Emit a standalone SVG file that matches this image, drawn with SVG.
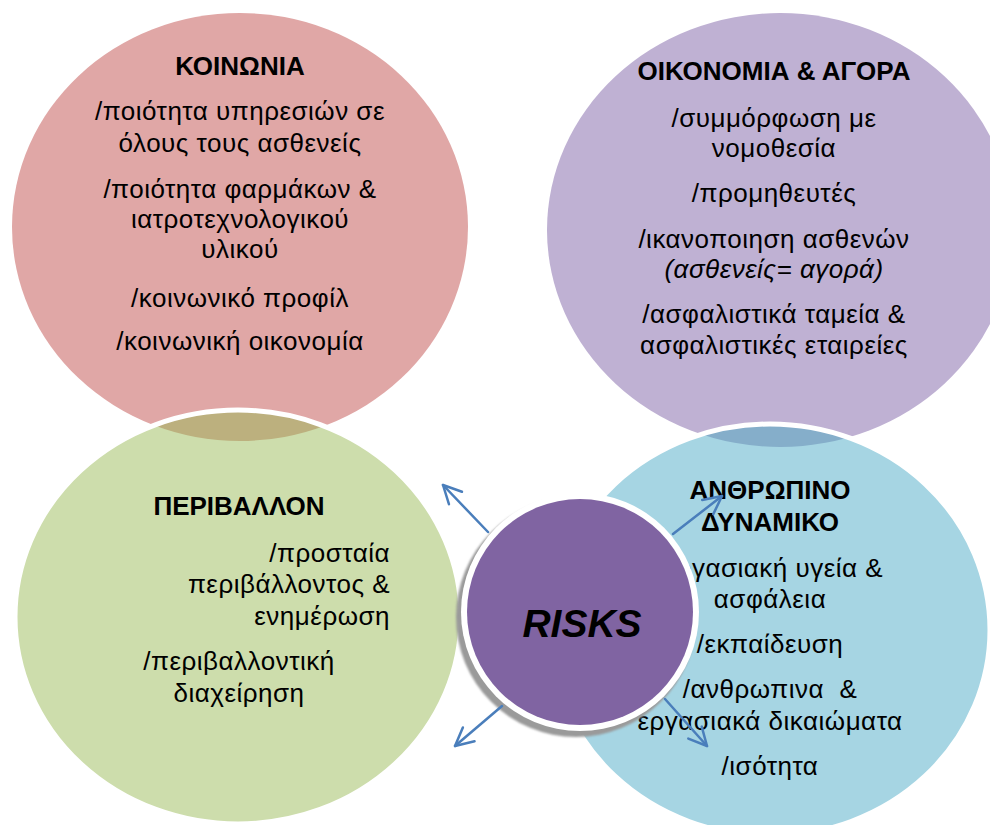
<svg xmlns="http://www.w3.org/2000/svg" width="990" height="825" viewBox="0 0 990 825">
<style>
.t{font-family:"Liberation Sans","Noto Sans",sans-serif;font-size:26px;fill:#000;text-anchor:middle;letter-spacing:0.5px}
.h{font-weight:bold;letter-spacing:0}
.r{text-anchor:end}
.i{font-style:italic}
.ring{fill:none;stroke:#fff;stroke-width:5}
.arr{fill:none;stroke:#4A7EBB;stroke-width:2.5;stroke-linecap:round;stroke-linejoin:round}
</style>
<defs>
<clipPath id="cRed"><ellipse cx="240" cy="227" rx="228" ry="214"/></clipPath>
<clipPath id="cPur"><ellipse cx="780" cy="230" rx="233" ry="217"/></clipPath>
<marker id="ah" markerUnits="userSpaceOnUse" viewBox="-22 -12 24 24" markerWidth="24" markerHeight="24" refX="0" refY="0" orient="auto" overflow="visible">
<path d="M-18,-9 L0,0 L-18,9" class="arr"/>
</marker>
<filter id="blur" x="-10%" y="-10%" width="120%" height="120%"><feGaussianBlur stdDeviation="1"/></filter>
</defs>
<rect width="990" height="825" fill="#fff"/>

<g id="node-koinonia">
<ellipse cx="240" cy="227" rx="228" ry="214" fill="#E0A7A6"/>
<text class="t h" x="240" y="75">ΚΟΙΝΩΝΙΑ</text>
<text class="t" x="240" y="120">/ποιότητα υπηρεσιών σε</text>
<text class="t" x="240" y="152">όλους τους ασθενείς</text>
<text class="t" x="240" y="198">/ποιότητα φαρμάκων &amp;</text>
<text class="t" x="240" y="228">ιατροτεχνολογικού</text>
<text class="t" x="240" y="258">υλικού</text>
<text class="t" x="240" y="307">/κοινωνικό προφίλ</text>
<text class="t" x="240" y="350">/κοινωνική οικονομία</text>
</g>

<g id="node-oikonomia">
<ellipse cx="780" cy="230" rx="233" ry="217" fill="#BFB1D3"/>
<text class="t h" x="774" y="80">ΟΙΚΟΝΟΜΙΑ &amp; ΑΓΟΡΑ</text>
<text class="t" x="774" y="127">/συμμόρφωση με</text>
<text class="t" x="774" y="157">νομοθεσία</text>
<text class="t" x="774" y="202">/προμηθευτές</text>
<text class="t" x="774" y="248">/ικανοποιηση ασθενών</text>
<text class="t i" x="774" y="278">(ασθενείς= αγορά)</text>
<text class="t" x="774" y="323">/ασφαλιστικά ταμεία &amp;</text>
<text class="t" x="774" y="354">ασφαλιστικές εταιρείες</text>
</g>

<g id="node-perivallon">
<ellipse cx="238" cy="617" rx="223" ry="207" fill="#CDDDAC"/>
<ellipse cx="238" cy="617" rx="223" ry="207" fill="#BCB07E" clip-path="url(#cRed)"/>
<ellipse cx="238" cy="617" rx="223" ry="207" class="ring"/>
<text class="t h" x="239" y="515">ΠΕΡΙΒΑΛΛΟΝ</text>
<text class="t r" x="390" y="562">/προσταία</text>
<text class="t r" x="390" y="593">περιβάλλοντος &amp;</text>
<text class="t r" x="390" y="625">ενημέρωση</text>
<text class="t" x="239" y="670">/περιβαλλοντική</text>
<text class="t" x="239" y="702">διαχείρηση</text>
</g>

<g id="node-anthropino">
<ellipse cx="770" cy="630" rx="220" ry="206" fill="#A6D5E3"/>
<ellipse cx="770" cy="630" rx="220" ry="206" fill="#85AECA" clip-path="url(#cPur)"/>
<ellipse cx="770" cy="630" rx="220" ry="206" class="ring"/>
<text class="t h" x="770" y="499">ΑΝΘΡΩΠΙΝΟ</text>
<text class="t h" x="770" y="531">ΔΥΝΑΜΙΚΟ</text>
<text class="t" x="770" y="577">/εργασιακή υγεία &amp;</text>
<text class="t" x="770" y="608">ασφάλεια</text>
<text class="t" x="770" y="653">/εκπαίδευση</text>
<text class="t" x="770" y="698" xml:space="preserve">/ανθρωπινα  &amp;</text>
<text class="t" x="770" y="730">εργασιακά δικαιώματα</text>
<text class="t" x="770" y="775">/ισότητα</text>
</g>

<g id="node-risks">
<circle cx="576" cy="617" r="120" fill="#9A9A9A" filter="url(#blur)"/>
<circle cx="580" cy="612" r="119" fill="#fff"/>
<circle cx="580" cy="612" r="113" fill="#8064A2"/>
<text x="582" y="637" style="font-family:'Liberation Sans',Arial,sans-serif;font-size:39px;font-weight:bold;font-style:italic;text-anchor:middle;fill:#000">RISKS</text>
</g>

<g id="connectors">
<line class="arr" x1="488" y1="532" x2="443" y2="485" marker-end="url(#ah)"/>
<line class="arr" x1="673" y1="534" x2="722" y2="496" marker-end="url(#ah)"/>
<line class="arr" x1="502" y1="706" x2="455" y2="746" marker-end="url(#ah)"/>
<line class="arr" x1="665" y1="699" x2="707" y2="746" marker-end="url(#ah)"/>
</g>
</svg>
